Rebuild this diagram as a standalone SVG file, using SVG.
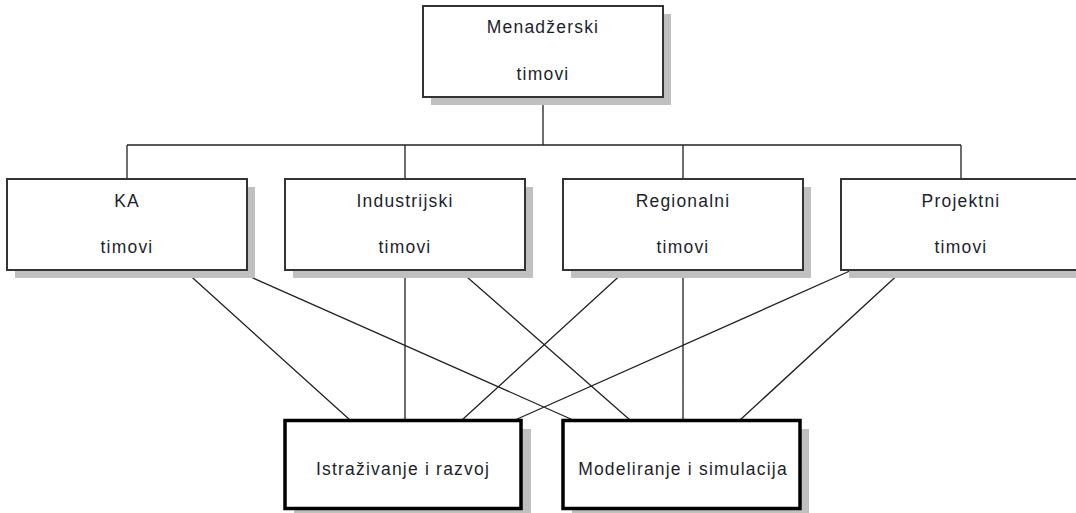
<svg xmlns="http://www.w3.org/2000/svg" width="1076" height="513" viewBox="0 0 1076 513">
<style>
.bg{fill:#ffffff}
.sh{fill:#c0c0c0}
.box{fill:#ffffff;stroke:#333333;stroke-width:2}
.bbox{fill:#ffffff;stroke:#000000;stroke-width:3.5}
.t{font-family:"Liberation Sans",Arial,sans-serif;font-size:17.5px;fill:#1e1e2e;text-anchor:middle;letter-spacing:1.2px}
.c{stroke:#222222;stroke-width:1.3;fill:none}
</style>
<rect class="bg" x="0" y="0" width="1076" height="513"/>
<g id="connectors">
<path class="c" d="M543,97V145M127,145H961M127,145V179M405,145V179M683,145V179M961,145V179"/>
<path class="c" d="M184,270L350,420M235,270L573,420M405,270V420M459,270L630,420M626,270L462,420M683,270V420M852,270L515,420M903,270L740,420"/>
</g>
<g id="menadzerski">
<rect class="sh" x="431" y="14" width="240" height="91"/>
<rect class="box" x="423" y="6" width="240" height="91"/>
<text class="t" x="543" y="33">Menadžerski</text>
<text class="t" x="543" y="80">timovi</text>
</g>
<g id="ka">
<rect class="sh" x="15" y="187" width="240" height="91"/>
<rect class="box" x="7" y="179" width="240" height="91"/>
<text class="t" x="127" y="207">KA</text>
<text class="t" x="127" y="253">timovi</text>
</g>
<g id="industrijski">
<rect class="sh" x="293" y="187" width="240" height="91"/>
<rect class="box" x="285" y="179" width="240" height="91"/>
<text class="t" x="405" y="207">Industrijski</text>
<text class="t" x="405" y="253">timovi</text>
</g>
<g id="regionalni">
<rect class="sh" x="571" y="187" width="240" height="91"/>
<rect class="box" x="563" y="179" width="240" height="91"/>
<text class="t" x="683" y="207">Regionalni</text>
<text class="t" x="683" y="253">timovi</text>
</g>
<g id="projektni">
<rect class="sh" x="849" y="187" width="240" height="91"/>
<rect class="box" x="841" y="179" width="240" height="91"/>
<text class="t" x="961" y="207">Projektni</text>
<text class="t" x="961" y="253">timovi</text>
</g>
<g id="istrazivanje">
<rect class="sh" x="294" y="429" width="237" height="88"/>
<rect class="bbox" x="285" y="420.5" width="236" height="88"/>
<text class="t" x="403" y="475">Istraživanje i razvoj</text>
</g>
<g id="modeliranje">
<rect class="sh" x="572" y="429" width="237" height="88"/>
<rect class="bbox" x="563" y="420.5" width="237" height="88"/>
<text class="t" x="683" y="475">Modeliranje i simulacija</text>
</g>
</svg>
